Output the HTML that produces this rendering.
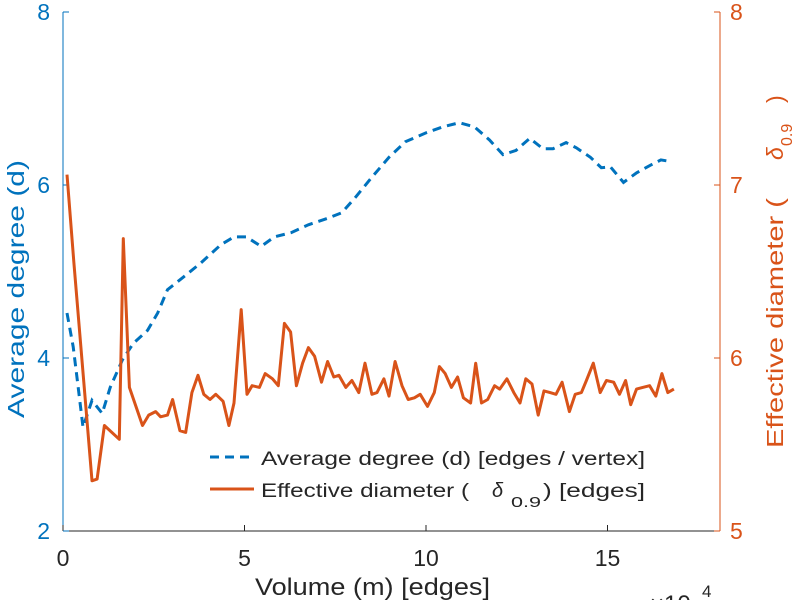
<!DOCTYPE html>
<html><head><meta charset="utf-8"><style>
html,body{margin:0;padding:0;background:#fff;width:795px;height:600px;overflow:hidden}
svg text{font-family:"Liberation Sans",sans-serif}
</style></head><body>
<svg id="chart" width="795" height="600" viewBox="0 0 795 600">
<g id="axes"></g>
<g id="marks"></g>
<g id="legend">
  <line x1="210" y1="457" x2="252" y2="457" stroke="#0072BD" stroke-width="3" stroke-dasharray="9,6"/>
  <text x="261" y="465" font-size="19" fill="#262626" textLength="384" lengthAdjust="spacingAndGlyphs">Average degree (d) [edges / vertex]</text>
  <line x1="210" y1="489" x2="254" y2="489" stroke="#D95319" stroke-width="3"/>
  <g>
    <text x="261" y="497" font-size="19" fill="#262626" textLength="208" lengthAdjust="spacingAndGlyphs">Effective diameter (</text>
    <text x="492" y="497" font-size="20" font-style="italic" fill="#262626">δ</text>
    <text x="511" y="507" font-size="15" fill="#262626" textLength="30" lengthAdjust="spacingAndGlyphs">0.9</text>
    <text x="543" y="497" font-size="19" fill="#262626" textLength="102" lengthAdjust="spacingAndGlyphs">) [edges]</text>
  </g>
</g>
</svg>
<script>
const degX = [0.11,0.28,0.42,0.55,0.80,1.08,1.30,1.64,1.94,2.33,2.61,2.88,3.33,3.80,4.35,4.71,5.05,5.46,5.82,6.29,6.76,7.32,7.68,8.04,8.51,8.98,9.43,9.98,10.45,10.92,11.34,11.75,12.12,12.48,12.86,13.22,13.50,13.86,14.14,14.53,14.83,15.08,15.44,15.80,16.19,16.47,16.75];
const degY = [4.52,4.13,3.66,3.20,3.51,3.36,3.66,3.98,4.17,4.32,4.52,4.79,4.94,5.10,5.31,5.40,5.40,5.29,5.40,5.45,5.54,5.62,5.68,5.85,6.09,6.32,6.50,6.60,6.67,6.72,6.67,6.52,6.35,6.40,6.54,6.42,6.42,6.49,6.43,6.32,6.20,6.21,6.03,6.14,6.23,6.29,6.27];
const diaX = [0.11,0.30,0.80,0.94,1.14,1.55,1.66,1.83,2.19,2.36,2.55,2.69,2.88,3.02,3.22,3.38,3.55,3.72,3.88,4.05,4.21,4.41,4.57,4.71,4.91,5.07,5.21,5.41,5.57,5.77,5.93,6.10,6.27,6.43,6.60,6.76,6.93,7.12,7.29,7.46,7.60,7.79,7.96,8.15,8.32,8.51,8.65,8.84,8.98,9.15,9.34,9.51,9.68,9.84,10.04,10.23,10.37,10.53,10.70,10.87,11.03,11.23,11.37,11.53,11.70,11.89,12.03,12.23,12.42,12.59,12.75,12.92,13.09,13.25,13.42,13.58,13.75,13.95,14.11,14.28,14.42,14.61,14.80,14.97,15.17,15.33,15.50,15.64,15.80,15.97,16.16,16.33,16.50,16.66,16.83];
const diaY = [7.06,6.55,5.29,5.30,5.61,5.53,6.69,5.83,5.61,5.67,5.69,5.66,5.67,5.76,5.58,5.57,5.80,5.90,5.79,5.76,5.79,5.75,5.61,5.74,6.28,5.79,5.84,5.83,5.91,5.88,5.84,6.20,6.15,5.84,5.97,6.06,6.01,5.86,5.98,5.89,5.90,5.83,5.87,5.80,5.97,5.79,5.80,5.88,5.78,5.98,5.84,5.76,5.77,5.79,5.72,5.80,5.95,5.91,5.83,5.89,5.77,5.74,5.97,5.74,5.76,5.84,5.82,5.88,5.80,5.74,5.88,5.85,5.67,5.81,5.80,5.79,5.86,5.69,5.79,5.80,5.87,5.97,5.80,5.87,5.86,5.79,5.87,5.73,5.82,5.83,5.84,5.78,5.91,5.80,5.82];
const xTicks = [0,5,10,15];
const leftTicks = [2,4,6,8];
const rightTicks = [5,6,7,8];

const L=63, R=720, T=12, B=531;
const xs = v => L + v*36.3;
const yl = v => B - (v-2)/6*(B-T);
const yr = v => B - (v-5)/3*(B-T);
const NS="http://www.w3.org/2000/svg";
const axes=document.getElementById('axes'), marks=document.getElementById('marks');
function mk(tag, attrs, parent, txt){const e=document.createElementNS(NS,tag);for(const k in attrs)e.setAttribute(k,attrs[k]);if(txt!==undefined)e.textContent=txt;parent.appendChild(e);return e;}

let e;
e=mk('line',{x1:L,y1:B,x2:R,y2:B,stroke:'#262626','stroke-width':1},axes);


e=mk('line',{x1:L,y1:T,x2:L,y2:B,stroke:'#0072BD','stroke-width':1},axes);


e=mk('line',{x1:R,y1:T,x2:R,y2:B,stroke:'#D95319','stroke-width':1},axes);



xTicks.forEach(t=>{
  mk('line',{x1:xs(t),y1:B,x2:xs(t),y2:B-6,stroke:'#262626'},axes);
  e=mk('text',{x:xs(t),y:B+35,'font-size':23,fill:'#262626','text-anchor':'middle'},axes,String(t));
  
  
});
leftTicks.forEach(t=>{
  mk('line',{x1:L,y1:yl(t),x2:L+6,y2:yl(t),stroke:'#0072BD'},axes);
  e=mk('text',{x:L-13,y:yl(t)+8,'font-size':23,fill:'#0072BD','text-anchor':'end'},axes,String(t));
  
  
});
rightTicks.forEach(t=>{
  mk('line',{x1:R,y1:yr(t),x2:R-6,y2:yr(t),stroke:'#D95319'},axes);
  e=mk('text',{x:R+10,y:yr(t)+8,'font-size':23,fill:'#D95319','text-anchor':'start'},axes,String(t));
  
  
});
e=mk('text',{x:255,y:595,'font-size':24,fill:'#262626',textLength:235,lengthAdjust:'spacingAndGlyphs'},axes,'Volume (m) [edges]');


e=mk('text',{x:650,y:612,'font-size':24,fill:'#262626'},axes,'×10');


mk('text',{x:702,y:597,'font-size':17,fill:'#262626'},axes,'4');
e=mk('text',{x:0,y:0,'font-size':23,fill:'#0072BD',transform:'translate(24,418) rotate(-90)',textLength:258,lengthAdjust:'spacingAndGlyphs'},axes,'Average degree (d)');


const rt=mk('g',{transform:'translate(783,448) rotate(-90)',fill:'#D95319'},axes);


mk('text',{x:0,y:0,'font-size':23,textLength:250,lengthAdjust:'spacingAndGlyphs'},rt,'Effective diameter (');
mk('text',{x:288,y:0,'font-size':23,'font-style':'italic'},rt,'δ');
mk('text',{x:302,y:9,'font-size':16},rt,'0.9');
mk('text',{x:345,y:0,'font-size':23},rt,')');

let p=degX.map((x,i)=>(i?'L':'M')+xs(x).toFixed(1)+','+yl(degY[i]).toFixed(1)).join(' ');
e=mk('path',{d:p,fill:'none',stroke:'#0072BD','stroke-width':3,'stroke-dasharray':'9,6'},marks);


p=diaX.map((x,i)=>(i?'L':'M')+xs(x).toFixed(1)+','+yr(diaY[i]).toFixed(1)).join(' ');
e=mk('path',{d:p,fill:'none',stroke:'#D95319','stroke-width':3,'stroke-linejoin':'round'},marks);


</script>
</body></html>
